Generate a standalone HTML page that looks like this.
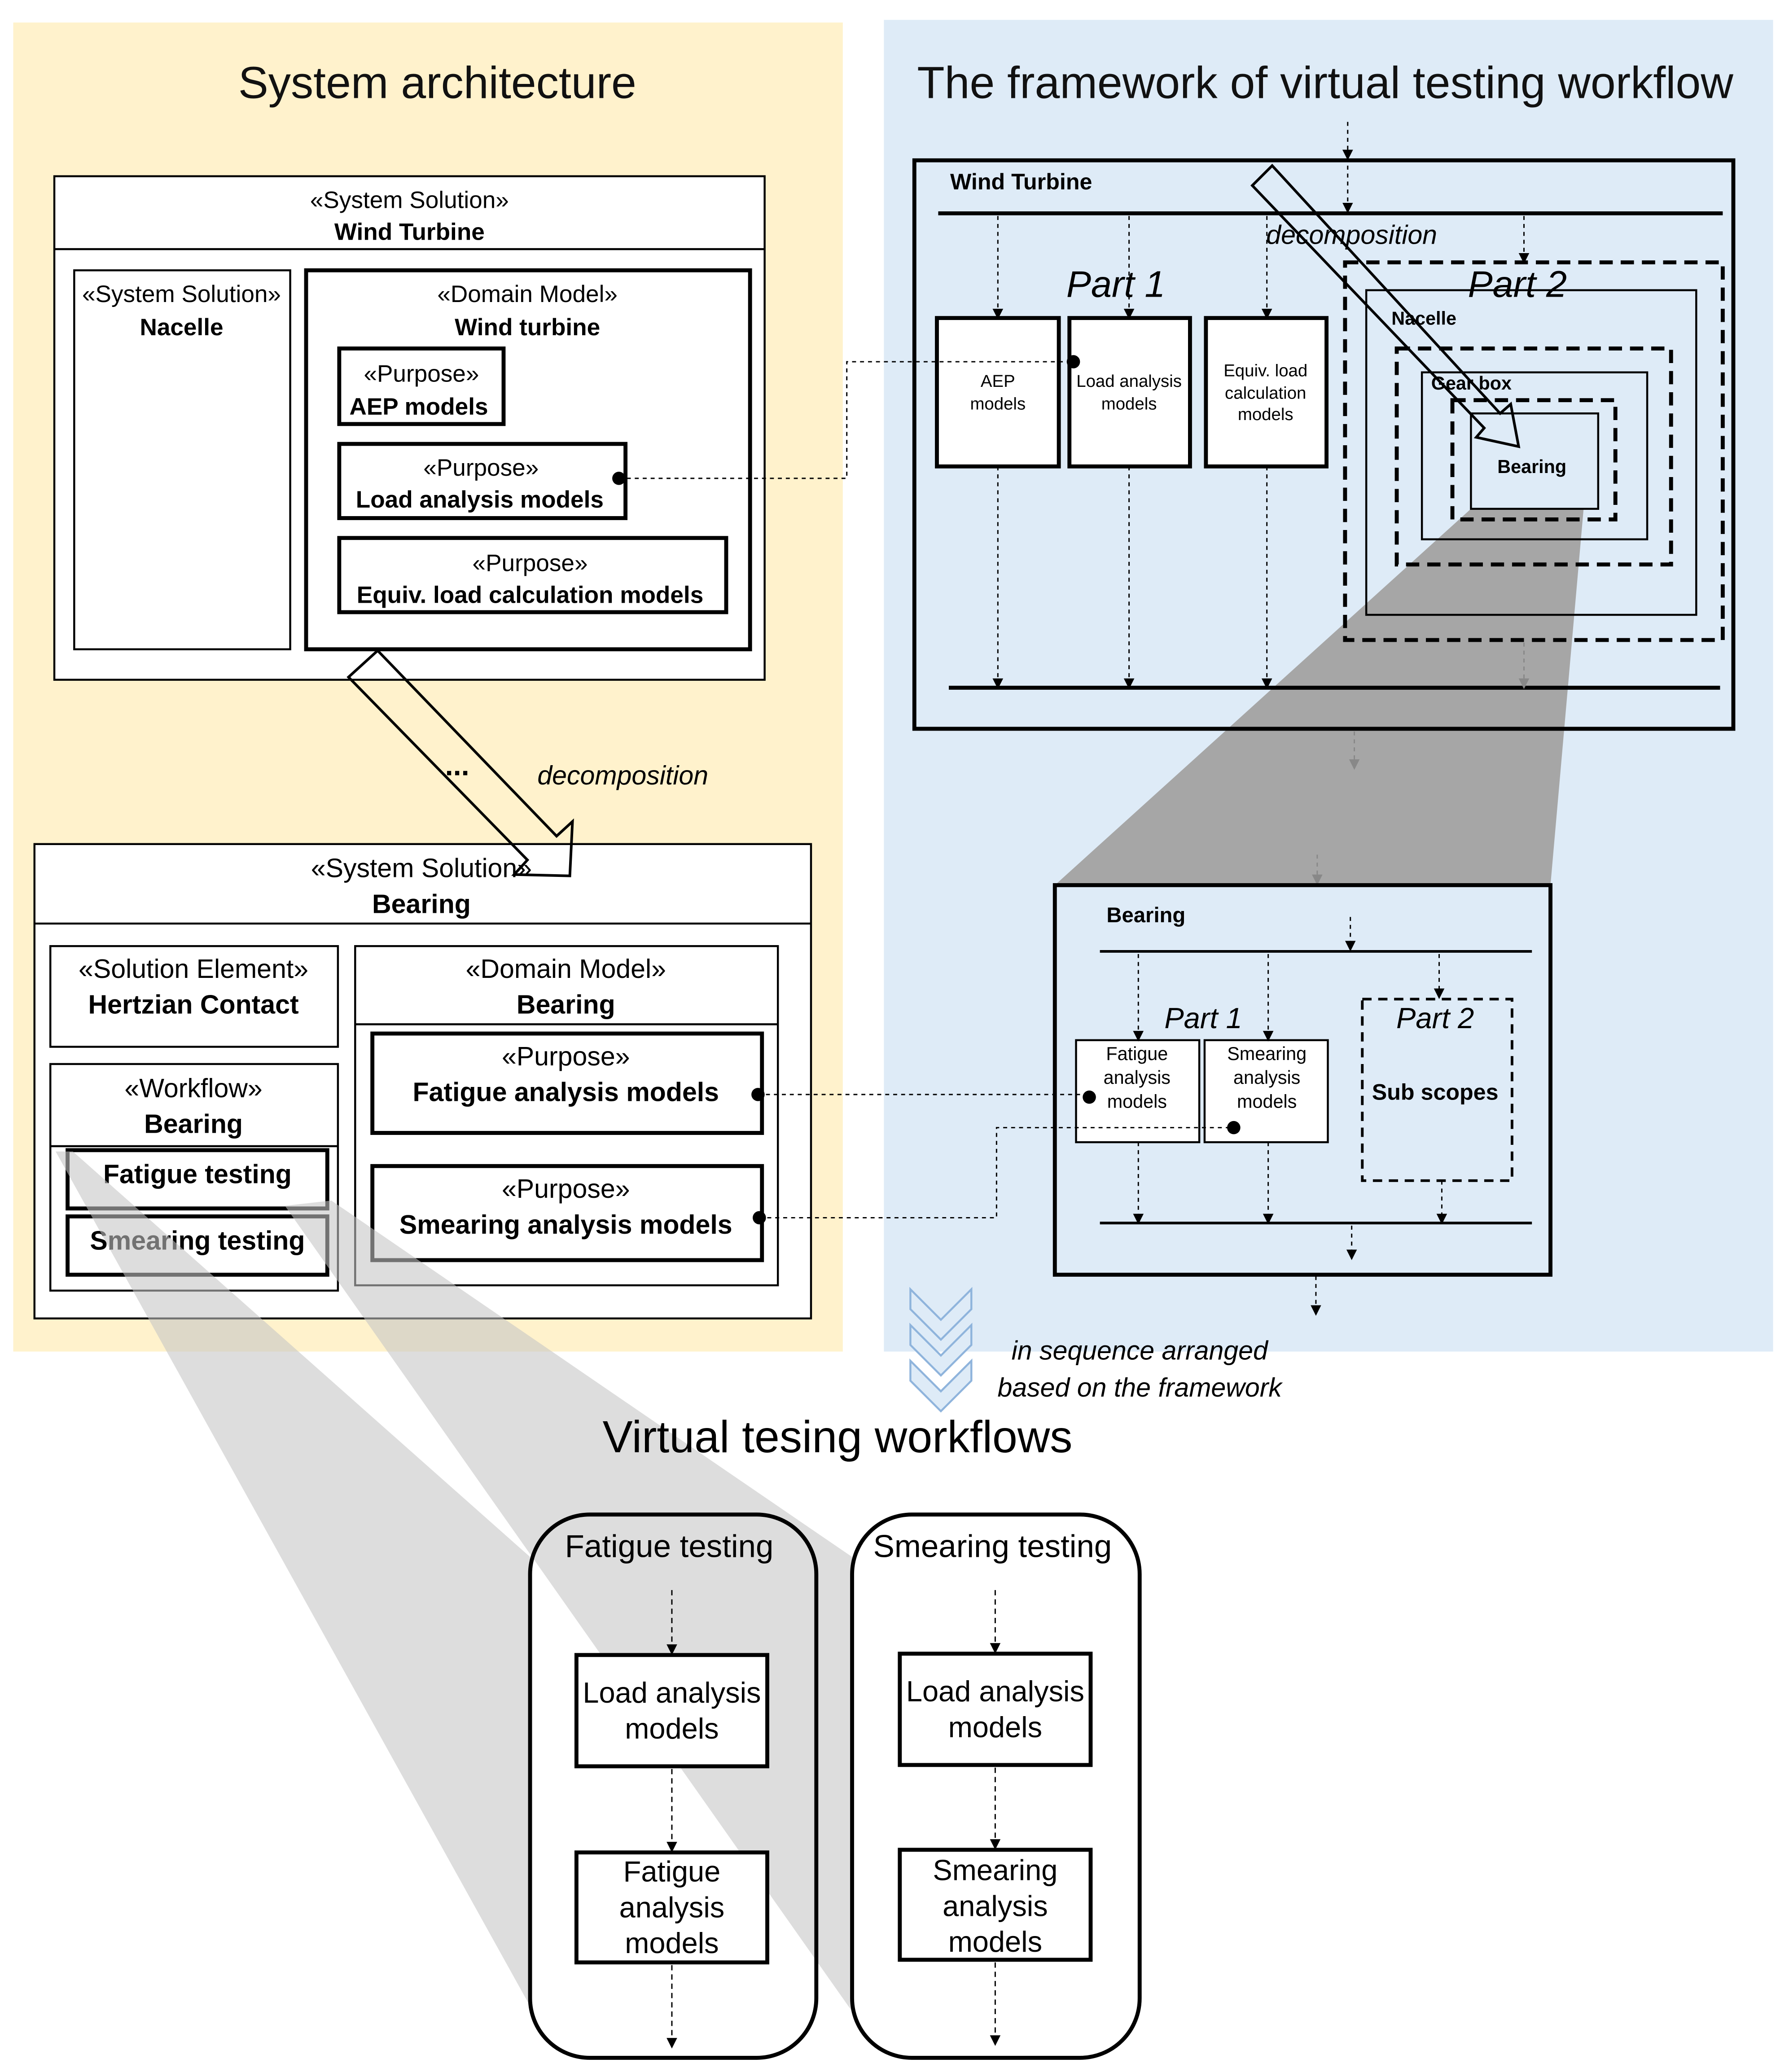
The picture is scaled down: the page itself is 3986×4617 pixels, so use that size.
<!DOCTYPE html>
<html><head><meta charset="utf-8"><style>html,body{margin:0;padding:0;background:#fff}svg{display:block}text{font-family:"Liberation Sans",sans-serif}</style></head><body>
<svg width="3986" height="4617" viewBox="0 0 1350 1563.7" xmlns="http://www.w3.org/2000/svg">
<defs><marker id="a" markerWidth="8" markerHeight="8" refX="7" refY="4" orient="auto" markerUnits="userSpaceOnUse"><path d="M0,0 L8,4 L0,8 z" fill="#000"/></marker>
<marker id="ag" markerWidth="8" markerHeight="8" refX="7" refY="4" orient="auto" markerUnits="userSpaceOnUse"><path d="M0,0 L8,4 L0,8 z" fill="#888"/></marker></defs>
<rect width="1350" height="1564" fill="#fff"/>
<rect x="10" y="17" width="626" height="1003" fill="#fff2cc"/>
<rect x="667" y="15" width="671" height="1005" fill="#deebf7"/>
<text x="330" y="74" font-size="34" text-anchor="middle" fill="#111">System architecture</text>
<text x="1000" y="74" font-size="34" text-anchor="middle" fill="#111">The framework of virtual testing workflow</text>
<polygon points="1110,384 1195,384 1170,668 796,668" fill="#a6a6a6"/>
<g stroke="#000" fill="#fff">
<rect x="41" y="133" width="536" height="380" stroke-width="1.5"/>
<line x1="41" y1="188" x2="577" y2="188" stroke-width="1.5"/>
<rect x="56" y="204" width="163" height="286" stroke-width="1.5"/>
<rect x="231" y="204" width="335" height="286" stroke-width="3"/>
<rect x="256" y="263" width="124" height="57" stroke-width="3"/>
<rect x="256" y="335" width="216" height="56" stroke-width="3"/>
<rect x="256" y="406" width="292" height="56" stroke-width="3"/>
<rect x="26" y="637" width="586" height="358" stroke-width="1.5"/>
<line x1="26" y1="697" x2="612" y2="697" stroke-width="1.5"/>
<rect x="38" y="714" width="217" height="76" stroke-width="1.5"/>
<rect x="38" y="803" width="217" height="171" stroke-width="1.5"/>
<line x1="38" y1="865" x2="255" y2="865" stroke-width="1.5"/>
<rect x="51" y="868" width="196" height="44" stroke-width="3"/>
<rect x="51" y="918" width="196" height="44" stroke-width="3"/>
<rect x="268" y="714" width="319" height="256" stroke-width="1.5"/>
<line x1="268" y1="773" x2="587" y2="773" stroke-width="1.5"/>
<rect x="281" y="780" width="294" height="75" stroke-width="3"/>
<rect x="281" y="880" width="294" height="71" stroke-width="3"/>
</g>
<polygon points="285,491 420,631 432,620 430,661 388,660 398,649 263,511" fill="none" stroke="#000" stroke-width="2"/>
<g font-size="18" text-anchor="middle" fill="#000">
<text x="309" y="157">«System Solution»</text><text x="309" y="181" font-weight="bold">Wind Turbine</text>
<text x="137" y="228">«System Solution»</text><text x="137" y="253" font-weight="bold">Nacelle</text>
<text x="398" y="228">«Domain Model»</text><text x="398" y="253" font-weight="bold">Wind turbine</text>
<text x="318" y="288">«Purpose»</text><text x="316" y="313" font-weight="bold">AEP models</text>
<text x="363" y="359">«Purpose»</text><text x="362" y="383" font-weight="bold">Load analysis models</text>
<text x="400" y="431">«Purpose»</text><text x="400" y="455" font-weight="bold">Equiv. load calculation models</text>
<text x="318" y="662" font-size="20">«System Solution»</text><text x="318" y="689" font-size="20" font-weight="bold">Bearing</text>
<text x="146" y="738" font-size="20">«Solution Element»</text><text x="146" y="765" font-size="20" font-weight="bold">Hertzian Contact</text>
<text x="146" y="828" font-size="20">«Workflow»</text><text x="146" y="855" font-size="20" font-weight="bold">Bearing</text>
<text x="149" y="893" font-size="20" font-weight="bold">Fatigue testing</text>
<text x="149" y="943" font-size="20" font-weight="bold">Smearing testing</text>
<text x="427" y="738" font-size="20">«Domain Model»</text><text x="427" y="765" font-size="20" font-weight="bold">Bearing</text>
<text x="427" y="804" font-size="20">«Purpose»</text><text x="427" y="831" font-size="20" font-weight="bold">Fatigue analysis models</text>
<text x="427" y="904" font-size="20">«Purpose»</text><text x="427" y="931" font-size="20" font-weight="bold">Smearing analysis models</text>
</g>
<text x="345" y="585" font-size="22" font-weight="bold" text-anchor="middle">...</text>
<text x="470" y="592" font-size="20" font-style="italic" text-anchor="middle">decomposition</text>
<g stroke="#000" fill="none">
<rect x="690" y="121" width="618" height="429" stroke-width="3"/>
<line x1="708" y1="161" x2="1300" y2="161" stroke-width="3"/>
<line x1="716" y1="519" x2="1298" y2="519" stroke-width="3"/>
<rect x="707" y="240" width="92" height="112" stroke-width="3" fill="#fff"/>
<rect x="807" y="240" width="91" height="112" stroke-width="3" fill="#fff"/>
<rect x="910" y="240" width="91" height="112" stroke-width="3" fill="#fff"/>
<rect x="1015" y="198" width="285" height="285" stroke-width="3" stroke-dasharray="10,6"/>
<rect x="1031" y="219" width="249" height="245" stroke-width="1.5"/>
<rect x="1054" y="263" width="207" height="163" stroke-width="3" stroke-dasharray="10,6"/>
<rect x="1073" y="281" width="170" height="126" stroke-width="1.5"/>
<rect x="1096" y="302" width="123" height="90" stroke-width="3" stroke-dasharray="10,6"/>
<rect x="1110" y="312" width="96" height="72" stroke-width="1.5"/>
</g>
<g stroke="#000" stroke-width="1" stroke-dasharray="3,3" fill="none" marker-end="url(#a)">
<line x1="1017" y1="92" x2="1017" y2="120"/>
<line x1="1017" y1="125" x2="1017" y2="160"/>
<line x1="753" y1="163" x2="753" y2="240"/><line x1="852" y1="163" x2="852" y2="240"/><line x1="956" y1="163" x2="956" y2="240"/>
<line x1="1150" y1="163" x2="1150" y2="198"/>
<line x1="753" y1="352" x2="753" y2="519"/><line x1="852" y1="352" x2="852" y2="519"/><line x1="956" y1="352" x2="956" y2="519"/>
</g>
<g stroke="#888" stroke-width="1" stroke-dasharray="3,3" marker-end="url(#ag)">
<line x1="1150" y1="485" x2="1150" y2="519"/>
<line x1="1022" y1="552" x2="1022" y2="580"/>
<line x1="994" y1="645" x2="994" y2="667"/>
</g>
<polygon points="945,140 960,125 1132,312 1140,305 1146,337 1114,330 1120,323" fill="none" stroke="#000" stroke-width="2"/>
<text x="717" y="143" font-size="17" font-weight="bold">Wind Turbine</text>
<text x="1020" y="184" font-size="20" font-style="italic" text-anchor="middle">decomposition</text>
<text x="842" y="224" font-size="28" font-style="italic" text-anchor="middle">Part 1</text>
<text x="1145" y="224" font-size="28" font-style="italic" text-anchor="middle">Part 2</text>
<text x="1050" y="245" font-size="14" font-weight="bold">Nacelle</text>
<text x="1080" y="294" font-size="14" font-weight="bold">Gear box</text>
<text x="1156" y="357" font-size="14" font-weight="bold" text-anchor="middle">Bearing</text>
<g font-size="13" text-anchor="middle">
<text x="753" y="292">AEP</text><text x="753" y="309">models</text>
<text x="852" y="292">Load analysis</text><text x="852" y="309">models</text>
<text x="955" y="284">Equiv. load</text><text x="955" y="301">calculation</text><text x="955" y="317">models</text>
</g>
<g stroke="#000" fill="none">
<rect x="796" y="668" width="374" height="294" stroke-width="3"/>
<line x1="830" y1="718" x2="1156" y2="718" stroke-width="2"/>
<line x1="830" y1="923" x2="1156" y2="923" stroke-width="2"/>
<rect x="812" y="785" width="93" height="77" stroke-width="1.5" fill="#fff"/>
<rect x="909" y="785" width="93" height="77" stroke-width="1.5" fill="#fff"/>
<rect x="1028" y="754" width="113" height="137" stroke-width="2" stroke-dasharray="7,5"/>
</g>
<g stroke="#000" stroke-width="1" stroke-dasharray="3,3" marker-end="url(#a)">
<line x1="1019" y1="692" x2="1019" y2="717"/>
<line x1="859" y1="720" x2="859" y2="785"/><line x1="957" y1="720" x2="957" y2="785"/>
<line x1="1086" y1="720" x2="1086" y2="753"/>
<line x1="859" y1="862" x2="859" y2="923"/><line x1="957" y1="862" x2="957" y2="923"/>
<line x1="1088" y1="891" x2="1088" y2="923"/>
<line x1="1020" y1="925" x2="1020" y2="950"/>
<line x1="993" y1="963" x2="993" y2="992"/>
</g>
<text x="835" y="696" font-size="16" font-weight="bold">Bearing</text>
<text x="908" y="776" font-size="22" font-style="italic" text-anchor="middle">Part 1</text>
<text x="1083" y="776" font-size="22" font-style="italic" text-anchor="middle">Part 2</text>
<text x="1083" y="830" font-size="17" font-weight="bold" text-anchor="middle">Sub scopes</text>
<g font-size="14" text-anchor="middle">
<text x="858" y="800">Fatigue</text><text x="858" y="818">analysis</text><text x="858" y="836">models</text>
<text x="956" y="800">Smearing</text><text x="956" y="818">analysis</text><text x="956" y="836">models</text>
</g>
<g stroke="#000" stroke-width="1" stroke-dasharray="3,3" fill="none">
<polyline points="467,361 639,361 639,273 810,273"/>
<line x1="572" y1="826" x2="822" y2="826"/>
<polyline points="573,919 752,919 752,851 931,851"/>
</g>
<g fill="#000"><circle cx="467" cy="361" r="5"/><circle cx="810" cy="273" r="5"/><circle cx="572" cy="826" r="5"/><circle cx="573" cy="919" r="5"/><circle cx="822" cy="828" r="5"/><circle cx="931" cy="851" r="5"/></g>
<g fill="#deebf7" stroke="#8fb4dc" stroke-width="1.5">
<polygon points="687,973 710,996 733,973 733,988 710,1011 687,988"/>
<polygon points="687,1000 710,1023 733,1000 733,1015 710,1038 687,1015"/>
<polygon points="687,1027 710,1050 733,1027 733,1042 710,1065 687,1042"/>
</g>
<text x="860" y="1026" font-size="20" font-style="italic" text-anchor="middle">in sequence arranged</text>
<text x="860" y="1054" font-size="20" font-style="italic" text-anchor="middle">based on the framework</text>
<!-- gray wedges on top -->
<polygon points="42,869 55,869 400,1175 400,1514" fill="#c4c4c4" opacity="0.58"/>
<polygon points="215,910 250,906 643,1175 643,1518" fill="#c4c4c4" opacity="0.58"/>
<text x="632" y="1096" font-size="34" text-anchor="middle">Virtual tesing workflows</text>
<g stroke="#000" stroke-width="3" fill="#fff">
<rect x="400" y="1143" width="216" height="410" rx="45" fill="none"/>
<rect x="643" y="1143" width="217" height="410" rx="45" fill="none"/>
<rect x="435" y="1249" width="144" height="84"/>
<rect x="435" y="1398" width="144" height="83"/>
<rect x="679" y="1248" width="144" height="84"/>
<rect x="679" y="1396" width="144" height="83"/>
</g>
<g stroke="#000" stroke-width="1" stroke-dasharray="4,3" marker-end="url(#a)">
<line x1="507" y1="1200" x2="507" y2="1248"/><line x1="507" y1="1335" x2="507" y2="1397"/><line x1="507" y1="1483" x2="507" y2="1545"/>
<line x1="751" y1="1200" x2="751" y2="1247"/><line x1="751" y1="1334" x2="751" y2="1395"/><line x1="751" y1="1481" x2="751" y2="1543"/>
</g>
<g font-size="22" text-anchor="middle">
<text x="505" y="1175" font-size="24">Fatigue testing</text>
<text x="749" y="1175" font-size="24">Smearing testing</text>
<text x="507" y="1285">Load analysis</text><text x="507" y="1312">models</text>
<text x="507" y="1420">Fatigue</text><text x="507" y="1447">analysis</text><text x="507" y="1474">models</text>
<text x="751" y="1284">Load analysis</text><text x="751" y="1311">models</text>
<text x="751" y="1419">Smearing</text><text x="751" y="1446">analysis</text><text x="751" y="1473">models</text>
</g>
</svg>
</body></html>
